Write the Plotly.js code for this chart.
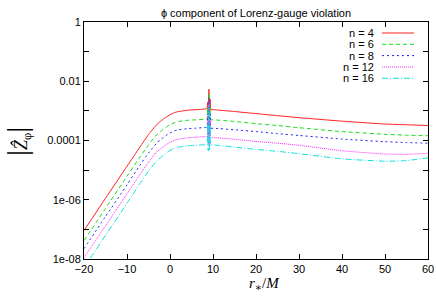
<!DOCTYPE html>
<html>
<head>
<meta charset="utf-8">
<script src="https://cdn.plot.ly/plotly-3.0.1.min.js"></script>
<style>html,body{margin:0;padding:0;background:#fff;}#plot{width:436px;height:297px;}</style>
</head>
<body>
<div id="plot"></div>
<script>
// r*/M sample positions
const rStar = [-20, -15, -10, -7, -5, -3, -2, -1, 0, 1, 2, 4, 6, 8, 8.6, 8.75, 8.9, 9.05, 9.2, 9.35, 9.5, 10, 15, 20, 25, 30, 40, 50, 55, 60];

const n4  = [9.1e-8, 1.12e-6, 1.35e-5, 6.0e-5, 1.58e-4, 3.55e-4, 4.7e-4, 6.0e-4, 7.4e-4, 8.7e-4, 9.5e-4, 1.05e-3, 1.10e-3, 1.15e-3, 1.20e-3, 2.0e-3, 7.9e-4, 5.4e-3, 8.9e-4, 2.5e-3, 1.10e-3, 1.10e-3, 9.5e-4, 8.1e-4, 6.9e-4, 5.9e-4, 4.5e-4, 3.6e-4, 3.4e-4, 3.2e-4];
const n6  = [4.2e-8, 5.1e-7, 6.2e-6, 2.75e-5, 7.2e-5, 1.62e-4, 2.14e-4, 2.75e-4, 3.4e-4, 4.0e-4, 4.4e-4, 4.8e-4, 5.0e-4, 5.2e-4, 5.4e-4, 1.26e-3, 3.2e-4, 4.0e-3, 2.8e-4, 1.26e-3, 5.0e-4, 5.0e-4, 4.4e-4, 3.7e-4, 3.2e-4, 2.7e-4, 2.0e-4, 1.62e-4, 1.51e-4, 1.45e-4];
const n8  = [2.24e-8, 2.7e-7, 3.2e-6, 1.45e-5, 3.8e-5, 8.5e-5, 1.12e-4, 1.45e-4, 1.78e-4, 2.1e-4, 2.3e-4, 2.5e-4, 2.6e-4, 2.75e-4, 2.75e-4, 7.9e-4, 1.41e-4, 2.8e-3, 1.26e-4, 7.9e-4, 2.6e-4, 2.6e-4, 2.3e-4, 2.0e-4, 1.7e-4, 1.48e-4, 1.12e-4, 9.1e-5, 8.5e-5, 8.1e-5];
const n12 = [1.1e-8, 1.32e-7, 1.58e-6, 7.1e-6, 1.86e-5, 4.2e-5, 5.5e-5, 7.1e-5, 8.7e-5, 1.02e-4, 1.12e-4, 1.23e-4, 1.29e-4, 1.35e-4, 1.35e-4, 6.3e-4, 7.1e-5, 2.0e-3, 6.3e-5, 5.0e-4, 1.26e-4, 1.26e-4, 1.1e-4, 9.3e-5, 8.1e-5, 6.9e-5, 4.5e-5, 3.5e-5, 3.4e-5, 3.7e-5];
const n16 = [5.1e-9, 6.3e-8, 7.6e-7, 3.5e-6, 9.3e-6, 2.1e-5, 2.8e-5, 3.7e-5, 4.6e-5, 5.4e-5, 6.0e-5, 6.6e-5, 6.9e-5, 7.2e-5, 7.2e-5, 4.0e-4, 4.5e-5, 1.58e-3, 4.5e-5, 3.2e-4, 7.1e-5, 7.1e-5, 6.0e-5, 5.0e-5, 4.3e-5, 3.6e-5, 2.4e-5, 2.0e-5, 2.1e-5, 2.6e-5];

const seriesNames = ["n = 4", "n = 6", "n = 8", "n = 12", "n = 16"];
const seriesData = [n4, n6, n8, n12, n16];
const colors = ["#ff2020", "#10e010", "#2020ff", "#ff20ff", "#10e0e0"];
const dashes = ["solid", "4px,3px", "2px,3px", "1px,1px", "6px,2px,1px,2px"];

const xTickVals = [-20, -10, 0, 10, 20, 30, 40, 50, 60];
const yTickVals = [1e-8, 1e-6, 1e-4, 1e-2, 1];
const yTickText = ["1e-08", "1e-06", "0.0001", "0.01", "1"];
const yMinorVals = [1e-7, 1e-5, 1e-3, 1e-1];

const traces = seriesData.map((d, i) => ({
  x: rStar, y: d, type: "scatter", mode: "lines", name: seriesNames[i],
  line: {color: colors[i], width: 1, dash: dashes[i], shape: "spline", smoothing: 0.5}, showlegend: false
}));

// custom legend (text left of sample line), paper coords
const L = 84, R = 428, T = 22, B = 259;
const px = v => (v - L) / (R - L);
const py = v => (B - v) / (B - T);
const rowsY = [33, 44.3, 55.6, 67, 78.3];
const annotations = [];
const shapes = [];
seriesNames.forEach((nm, i) => {
  annotations.push({xref: "paper", yref: "paper", x: px(376), y: py(rowsY[i]), text: nm, showarrow: false,
    xanchor: "right", yanchor: "middle", font: {family: "Liberation Sans, Arial, sans-serif", size: 11, color: "#000"}});
  shapes.push({type: "line", xref: "paper", yref: "paper", x0: px(382), x1: px(414), y0: py(rowsY[i]), y1: py(rowsY[i]),
    line: {color: colors[i], width: 1, dash: dashes[i]}});
});
// axis titles
annotations.push({xref: "paper", yref: "paper", x: px(264), y: py(284), text: "<i>r</i><sub>∗</sub>/<i>M</i>", showarrow: false,
  xanchor: "center", yanchor: "middle", font: {family: "Liberation Serif, DejaVu Serif, serif", size: 15, color: "#000"}});
annotations.push({xref: "paper", yref: "paper", x: px(17), y: py(142), textangle: -90,
  text: "<span style=\"font-size:30px\">|</span><i>Ẑ</i><sub>φ</sub><span style=\"font-size:30px\">|</span>", showarrow: false,
  xanchor: "center", yanchor: "middle", font: {family: "Liberation Serif, DejaVu Serif, serif", size: 18, color: "#000"}});

const layout = {
  width: 436, height: 297,
  margin: {l: L, r: 436 - R, t: T, b: 297 - B, pad: 0},
  paper_bgcolor: "#fff", plot_bgcolor: "#fff",
  title: {text: "ϕ component of Lorenz-gauge violation", x: (L + R) / 2 / 436, xanchor: "center",
    y: 1 - 13 / 297, yref: "container", yanchor: "middle",
    font: {family: "Liberation Sans, Arial, sans-serif", size: 11, color: "#000"}},
  xaxis: {range: [-20, 60], tickvals: xTickVals, ticks: "inside", ticklen: 5, tickcolor: "#000",
    showline: true, linecolor: "#000", linewidth: 1, mirror: "ticks", showgrid: false, zeroline: false,
    tickfont: {family: "Liberation Sans, Arial, sans-serif", size: 11, color: "#000"}},
  yaxis: {type: "log", range: [-8, 0], tickvals: yTickVals, ticktext: yTickText, ticks: "inside", ticklen: 5, tickcolor: "#000",
    minor: {tickmode: "array", tickvals: yMinorVals, ticks: "inside", ticklen: 5, tickcolor: "#000", showgrid: false},
    showline: true, linecolor: "#000", linewidth: 1, mirror: "ticks", showgrid: false, zeroline: false,
    tickfont: {family: "Liberation Sans, Arial, sans-serif", size: 11, color: "#000"}},
  annotations: annotations, shapes: shapes, showlegend: false
};
Plotly.newPlot("plot", traces, layout, {staticPlot: true, displayModeBar: false});
</script>
</body>
</html>
